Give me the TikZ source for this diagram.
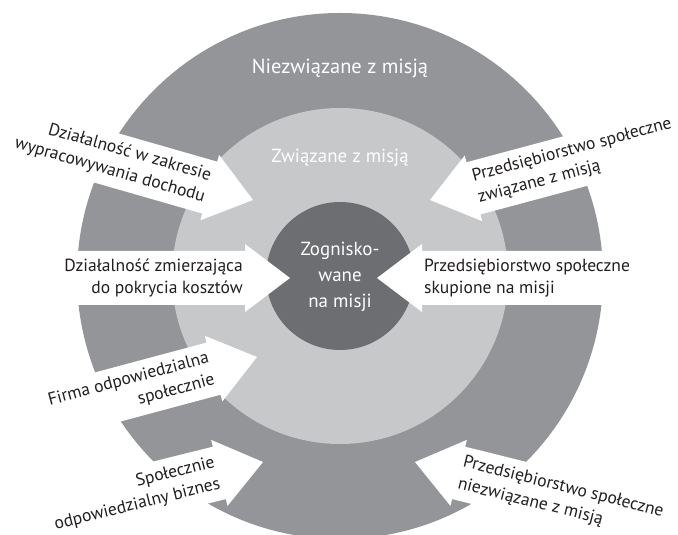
\documentclass[tikz,border=0pt]{standalone}
\usepackage{fontspec}
\setmainfont{PT Sans}
\definecolor{ringout}{RGB}{147,149,152}
\definecolor{ringmid}{RGB}{199,200,202}
\definecolor{ringin}{RGB}{109,110,113}
\definecolor{labelink}{RGB}{35,31,32}

\tikzset{
  ringlabel/.style={text=white, align=center, inner sep=0pt},
  arrowtext/.style={text=labelink, font=\fontsize{17.6}{22.5}\selectfont, inner sep=0pt, transform shape},
  % white block arrow, tip at the origin, pointing right
  toright/.pic={\fill[white] (0,0) -- (-45,34) -- (-45,27) -- (-300,27) -- (-300,-27) -- (-45,-27) -- (-45,-34) -- cycle;},
  % white block arrow, tip at the origin, pointing left
  toleft/.pic={\fill[white] (0,0) -- (45,34) -- (45,27) -- (300,27) -- (300,-27) -- (45,-27) -- (45,-34) -- cycle;},
}

\begin{document}
\begin{tikzpicture}[x=1bp,y=1bp]
\useasboundingbox (0,0) rectangle (678,535);
\clip (0,0) rectangle (678,535);

% three nested discs
\coordinate (C) at (340,259);
\fill[ringout] (C) circle[radius=263];
\fill[ringmid] (C) circle[radius=168];
\fill[ringin]  (C) circle[radius=74];

% arrow tips
\coordinate (tTL) at (253,335);
\coordinate (tML) at (290,257);
\coordinate (tLL) at (257,178);
\coordinate (tBL) at (263,73);
\coordinate (tTR) at (430,335);
\coordinate (tMR) at (377,257);
\coordinate (tBR) at (415,73);

% arrow shapes
\pic[rotate=-16] at (tTL) {toright};
\pic at (tML) {toright};
\pic[rotate=15] at (tLL) {toright};
\pic[rotate=14] at (tBL) {toright};
\pic[rotate=15] at (tTR) {toleft};
\pic at (tMR) {toleft};
\pic[rotate=-14] at (tBR) {toleft};

% arrow labels
\begin{scope}[shift={(tTL)}, rotate=-16]
  \node[arrowtext, anchor=east, align=right] (lTL) at (-47,0) {Działalność w zakresie\\wypracowywania dochodu};
\end{scope}
\begin{scope}[shift={(tML)}]
  \node[arrowtext, anchor=east, align=right] (lML) at (-47,0) {Działalność zmierzająca\\do pokrycia kosztów};
\end{scope}
\begin{scope}[shift={(tLL)}, rotate=15]
  \node[arrowtext, anchor=east, align=right] (lLL) at (-47,0) {Firma odpowiedzialna\\społecznie};
\end{scope}
\begin{scope}[shift={(tBL)}, rotate=14]
  \node[arrowtext, anchor=east, align=right] (lBL) at (-47,0) {Społecznie\\odpowiedzialny biznes};
\end{scope}
\begin{scope}[shift={(tTR)}, rotate=15]
  \node[arrowtext, anchor=west, align=left] (lTR) at (47,0) {Przedsiębiorstwo społeczne\\związane z misją};
\end{scope}
\begin{scope}[shift={(tMR)}]
  \node[arrowtext, anchor=west, align=left] (lMR) at (47,0) {Przedsiębiorstwo społeczne\\skupione na misji};
\end{scope}
\begin{scope}[shift={(tBR)}, rotate=-14]
  \node[arrowtext, anchor=west, align=left] (lBR) at (47,0) {Przedsiębiorstwo społeczne\\niezwiązane z misją};
\end{scope}

% ring labels
\node[ringlabel, font=\fontsize{20.5}{24}\selectfont] (outer) at (340,467) {Niezwiązane z misją};
\node[ringlabel, font=\fontsize{19}{22}\selectfont] (middle) at (340,377) {Związane z misją};
\node[ringlabel, font=\fontsize{19}{26}\selectfont] (inner) at (340,258) {Zognisko-\\wane\\na misji};
\end{tikzpicture}
\end{document}
